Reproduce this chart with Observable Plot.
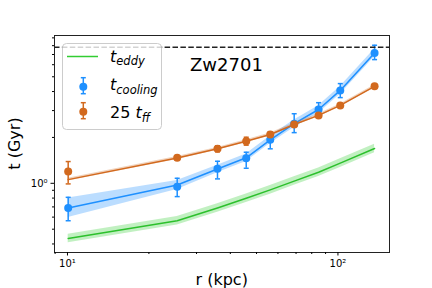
<!DOCTYPE html>
<html><head><meta charset="utf-8">
<script src="https://cdn.jsdelivr.net/npm/d3@7"></script>
<script src="https://cdn.jsdelivr.net/npm/@observablehq/plot@0.6"></script>
<style>body{margin:0;background:#fff} svg{display:block}</style>
</head><body><div id="chart"></div>
<script>
// radii (kpc)
const r = [10.06, 25.45, 35.86, 45.8, 56.2, 68.9, 84.8, 102, 136.6];
// t_cooling data points and error bars (Gyr)
const tCool   = [0.689, 0.951, 1.244, 1.460, 1.930, 2.460, 3.054, 4.07, 7.17];
const tCoolLo = [0.568, 0.818, 1.069, 1.255, 1.684, 2.15, 2.76, 3.65, 6.48];
const tCoolHi = [0.809, 1.079, 1.395, 1.599, 2.165, 2.861, 3.38, 4.51, 8.05];
// t_cooling profile and its band
const coolFit    = [0.689, 0.975, 1.24, 1.47, 1.93, 2.46, 3.05, 4.07, 7.17];
const coolBandLo = [0.597, 0.910, 1.171, 1.388, 1.822, 2.322, 2.879, 3.842, 6.768];
const coolBandHi = [0.800, 1.045, 1.313, 1.557, 2.044, 2.605, 3.230, 4.310, 7.593];
// 25 t_ff data points and error bars
const tff   = [1.194, 1.469, 1.684, 1.889, 2.091, 2.433, 2.789, 3.245, 4.327];
const tffLo = [0.991, 1.426, 1.608, 1.779, 2.02, 2.38, 2.73, 3.17, 4.23];
const tffHi = [1.389, 1.513, 1.763, 2.006, 2.165, 2.49, 2.85, 3.32, 4.43];
// 25 t_ff profile and band
const tffFit    = [1.057, 1.465, 1.684, 1.889, 2.091, 2.433, 2.789, 3.245, 4.327];
const tffBandLo = [1.035, 1.434, 1.648, 1.849, 2.047, 2.382, 2.730, 3.177, 4.236];
const tffBandHi = [1.080, 1.497, 1.720, 1.930, 2.136, 2.485, 2.849, 3.315, 4.420];
// t_eddy profile and band
const eddy   = [0.4346, 0.568, 0.689, 0.797, 0.905, 1.034, 1.183, 1.356, 1.692];
const eddyLo = [0.408, 0.533, 0.646, 0.748, 0.849, 0.970, 1.110, 1.272, 1.587];
const eddyHi = [0.464, 0.606, 0.735, 0.850, 0.966, 1.103, 1.262, 1.447, 1.805];
// horizontal reference (Gyr)
const tRef = [7.8];
// ticks
const xMajor = [10, 100];
const xMinor = [9, 20, 30, 40, 50, 60, 70, 80, 90];
const yMajor = [1];
const yMinor = [0.4, 0.5, 0.6, 0.7, 0.8, 0.9, 2, 3, 4, 5, 6, 7, 8, 9];
const clusterName = "Zw2701";

const rows = r.map((v, i) => ({
  r: v, cool: tCool[i], coolLo: tCoolLo[i], coolHi: tCoolHi[i],
  coolFit: coolFit[i], coolBandLo: coolBandLo[i], coolBandHi: coolBandHi[i],
  tff: tff[i], tffLo: tffLo[i], tffHi: tffHi[i],
  tffFit: tffFit[i], tffBandLo: tffBandLo[i], tffBandHi: tffBandHi[i],
  eddy: eddy[i], eddyLo: eddyLo[i], eddyHi: eddyHi[i]
}));

const capSymbol = {draw(ctx, size) { const w = Math.sqrt(size / Math.PI); ctx.moveTo(-w, 0); ctx.lineTo(w, 0); }};
const sup = {"0":"⁰","1":"¹","2":"²","3":"³","-":"⁻"};
const fmt = d => "10" + String(Math.round(Math.log10(d))).split("").map(c => sup[c]).join("");

const BLUE = "#1e90ff", ORANGE = "#d2691e", GREEN = "#32cd32";

const chart = Plot.plot({
  width: 432, height: 288,
  marginLeft: 54, marginRight: 43, marginTop: 35, marginBottom: 36,
  style: {fontFamily: "DejaVu Sans", fontSize: "10px", background: "white", color: "black"},
  x: {type: "log", domain: [8.954, 155.1]},
  y: {type: "log", domain: [0.3516, 9.327]},
  marks: [
    Plot.areaY(rows, {x: "r", y1: "eddyLo", y2: "eddyHi", fill: GREEN, fillOpacity: 0.3}),
    Plot.line(rows, {x: "r", y: "eddy", stroke: "#2cc02c", strokeWidth: 1.5}),
    Plot.areaY(rows, {x: "r", y1: "coolBandLo", y2: "coolBandHi", fill: BLUE, fillOpacity: 0.3}),
    Plot.line(rows, {x: "r", y: "coolFit", stroke: BLUE, strokeWidth: 1.5}),
    Plot.areaY(rows, {x: "r", y1: "tffBandLo", y2: "tffBandHi", fill: ORANGE, fillOpacity: 0.3}),
    Plot.line(rows, {x: "r", y: "tffFit", stroke: ORANGE, strokeWidth: 1.5}),
    Plot.ruleX(rows, {x: "r", y1: "coolLo", y2: "coolHi", stroke: BLUE, strokeWidth: 1.5}),
    Plot.dot(rows, {x: "r", y: "coolLo", symbol: capSymbol, r: 2.5, stroke: BLUE, strokeWidth: 1.5}),
    Plot.dot(rows, {x: "r", y: "coolHi", symbol: capSymbol, r: 2.5, stroke: BLUE, strokeWidth: 1.5}),
    Plot.dot(rows, {x: "r", y: "cool", r: 4, fill: BLUE}),
    Plot.ruleX(rows, {x: "r", y1: "tffLo", y2: "tffHi", stroke: ORANGE, strokeWidth: 1.5}),
    Plot.dot(rows, {x: "r", y: "tffLo", symbol: capSymbol, r: 2.5, stroke: ORANGE, strokeWidth: 1.5}),
    Plot.dot(rows, {x: "r", y: "tffHi", symbol: capSymbol, r: 2.5, stroke: ORANGE, strokeWidth: 1.5}),
    Plot.dot(rows, {x: "r", y: "tff", r: 4, fill: ORANGE}),
    Plot.ruleY(tRef, {stroke: "#222", strokeWidth: 1.5, strokeDasharray: "5.5,2.4"}),
    Plot.frame({stroke: "#222", strokeWidth: 1}),
    Plot.axisX(xMajor, {tickSize: 3.5, tickPadding: 4, tickFormat: fmt, label: null, fontSize: 10}),
    Plot.axisX(xMinor, {tickSize: 2, tickFormat: () => "", label: null}),
    Plot.axisY(yMajor, {tickSize: 3.5, tickPadding: 3.5, tickFormat: fmt, label: null, fontSize: 10}),
    Plot.axisY(yMinor, {tickSize: 2, tickFormat: () => "", label: null})
  ]
});

const svg = d3.select(chart);
const F = "DejaVu Sans";
// axis titles
svg.append("text").attr("x", 221.7).attr("y", 285).attr("text-anchor", "middle")
  .attr("font-family", F).attr("font-size", 16).attr("fill", "black").text("r (kpc)");
svg.append("text").attr("transform", "translate(20,143.5) rotate(-90)").attr("text-anchor", "middle")
  .attr("font-family", F).attr("font-size", 16).attr("fill", "black").text("t (Gyr)");
// annotation
svg.append("text").attr("x", 190).attr("y", 70.7).attr("text-anchor", "start").attr("font-family", F).attr("font-size", 18)
  .attr("fill", "black").text(clusterName);

// legend
const lg = svg.append("g").attr("font-family", F).attr("fill", "black").attr("text-anchor", "start");
lg.append("rect").attr("x", 62.5).attr("y", 43.5).attr("width", 99).attr("height", 86).attr("rx", 4)
  .attr("fill", "white").attr("fill-opacity", 0.8).attr("stroke", "#cccccc");
lg.append("line").attr("x1", 67).attr("x2", 98).attr("y1", 56.5).attr("y2", 56.5)
  .attr("stroke", GREEN).attr("stroke-width", 1.5);
function errGlyph(y, color) {
  lg.append("line").attr("x1", 83.3).attr("x2", 83.3).attr("y1", y - 9).attr("y2", y + 7)
    .attr("stroke", color).attr("stroke-width", 1.5);
  [y - 9, y + 7].forEach(yy => lg.append("line").attr("x1", 80.8).attr("x2", 85.8)
    .attr("y1", yy).attr("y2", yy).attr("stroke", color).attr("stroke-width", 1.5));
  lg.append("circle").attr("cx", 83.3).attr("cy", y).attr("r", 4).attr("fill", color);
}
errGlyph(86.7, BLUE);
errGlyph(111.7, ORANGE);
function label(y, pre, sub) {
  const t = lg.append("text").attr("x", 110).attr("y", y).attr("font-size", 16).attr("text-anchor", "start");
  if (pre) t.append("tspan").text(pre);
  t.append("tspan").attr("font-style", "italic").text("t");
  t.append("tspan").attr("font-style", "italic").attr("font-size", 11.5).attr("dy", 3.5).text(sub);
}
label(61.7, "", "eddy");
label(90, "", "cooling");
label(118, "25 ", "ff");

document.getElementById("chart").appendChild(chart);
</script></body></html>
